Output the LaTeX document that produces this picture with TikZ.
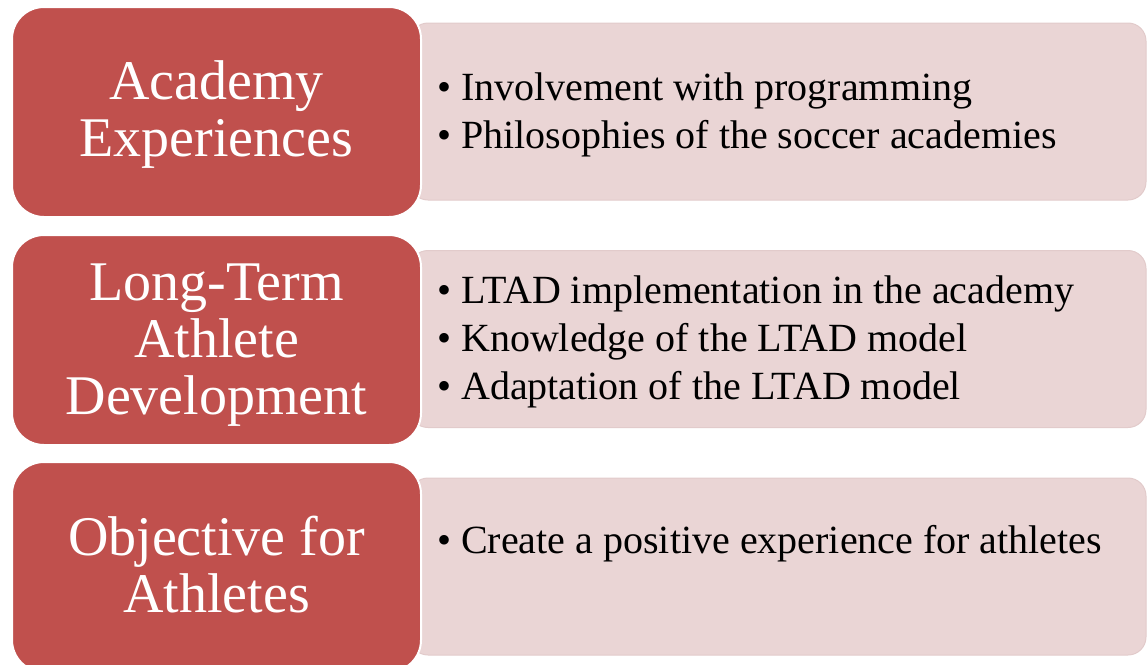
\documentclass[tikz,border=0pt]{standalone}
\usepackage{fontspec}
\setmainfont{Liberation Serif}
\definecolor{redbox}{HTML}{C0504D}
\definecolor{pinkbox}{HTML}{EAD5D5}
\definecolor{pinkline}{HTML}{E2CBCB}
\begin{document}
\begin{tikzpicture}[x=1pt,y=-1pt,
  head/.style={fill=redbox, draw=white, line width=2pt, rounded corners=32pt,
    minimum width=409pt, minimum height=210pt, inner sep=0pt},
  headtext/.style={text=white, font=\fontsize{56}{57}\selectfont, align=center, inner sep=0pt},
  panel/.style={fill=pinkbox, draw=pinkline, line width=1pt, rounded corners=18pt,
    minimum width=736pt, minimum height=177pt, inner sep=0pt},
  items/.style={anchor=west, align=left, font=\fontsize{40}{48}\selectfont, inner sep=0pt}]
\useasboundingbox (0,0) rectangle (1147,664);
\clip (0,0) rectangle (1147,664);
% panels
\node[panel] (p1) at (778,111.5) {};
\node[panel] (p2) at (778,339) {};
\node[panel] (p3) at (778,566.5) {};
% heads
\node[head] (r1) at (216.5,112) {};
\node[head] (r2) at (216.5,340) {};
\node[head] (r3) at (216.5,567) {};
\node[headtext] (h1) at (216.5,114.5) {Academy\\Experiences};
\node[headtext] (h2) at (216.5,345) {Long-Term\\Athlete\\Development};
\node[headtext] (h3) at (216.5,565) {Objective for\\Athletes};
% items
\node[items] (t1) at (437,115) {• Involvement with programming\\• Philosophies of the soccer academies};
\node[items] (t2) at (437,342) {• LTAD implementation in the academy\\• Knowledge of the LTAD model\\• Adaptation of the LTAD model};
\node[items] (t3) at (437,544) {• Create a positive experience for athletes};
\end{tikzpicture}
\end{document}
